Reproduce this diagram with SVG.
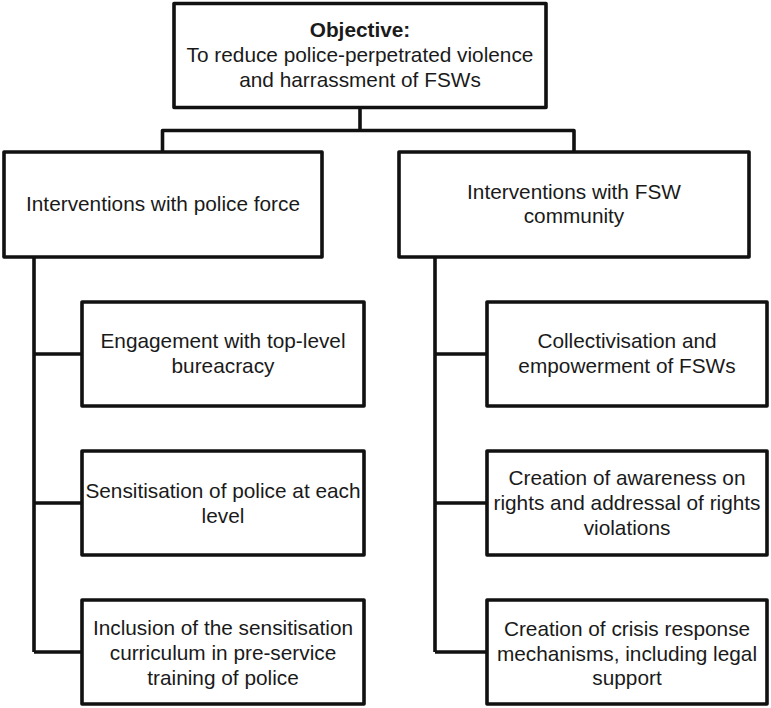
<svg xmlns="http://www.w3.org/2000/svg" width="771" height="708" viewBox="0 0 771 708">
<style>
.box{fill:#fff;stroke:#111;stroke-width:3.6;stroke-linejoin:round}
.con{fill:none;stroke:#111;stroke-width:3.6;stroke-linejoin:round}
text{font-family:"Liberation Sans",Arial,Helvetica,sans-serif;font-size:20.8px;fill:#1a1a1a;text-anchor:middle}
.b{font-weight:bold}
</style>
<rect width="771" height="708" fill="#fff"/>
<g id="connectors">
<path class="con" d="M360 108 V130.5 M162.5 152 V130.5 H574 V152"/>
<path class="con" d="M34 257 V652 M34 354 H82 M34 503 H82 M34 652 H82"/>
<path class="con" d="M435 257 V652 M435 354 H487 M435 503 H487 M435 652 H487"/>
</g>
<g id="objective">
<rect class="box" x="174" y="3.5" width="372" height="104"/>
<text x="360" y="37" class="b">Objective:</text>
<text x="360" y="62">To reduce police-perpetrated violence</text>
<text x="360" y="87">and harrassment of FSWs</text>
</g>
<g id="police">
<rect class="box" x="4" y="152" width="318" height="105"/>
<text x="163" y="211">Interventions with police force</text>
</g>
<g id="community">
<rect class="box" x="399" y="152" width="350" height="105"/>
<text x="574" y="199">Interventions with FSW</text>
<text x="574" y="223">community</text>
</g>
<g id="p1">
<rect class="box" x="82" y="302" width="282" height="104"/>
<text x="223" y="348">Engagement with top-level</text>
<text x="223" y="373">bureacracy</text>
</g>
<g id="p2">
<rect class="box" x="82" y="451" width="282" height="104"/>
<text x="223" y="498">Sensitisation of police at each</text>
<text x="223" y="523">level</text>
</g>
<g id="p3">
<rect class="box" x="82" y="600" width="282" height="104"/>
<text x="223" y="635">Inclusion of the sensitisation</text>
<text x="223" y="660">curriculum in pre-service</text>
<text x="223" y="685">training of police</text>
</g>
<g id="c1">
<rect class="box" x="487" y="302" width="280" height="104"/>
<text x="627" y="348">Collectivisation and</text>
<text x="627" y="373">empowerment of FSWs</text>
</g>
<g id="c2">
<rect class="box" x="487" y="451" width="280" height="104"/>
<text x="627" y="485">Creation of awareness on</text>
<text x="627" y="510">rights and addressal of rights</text>
<text x="627" y="535">violations</text>
</g>
<g id="c3">
<rect class="box" x="487" y="600" width="280" height="104"/>
<text x="627" y="636">Creation of crisis response</text>
<text x="627" y="661">mechanisms, including legal</text>
<text x="627" y="685">support</text>
</g>
</svg>
